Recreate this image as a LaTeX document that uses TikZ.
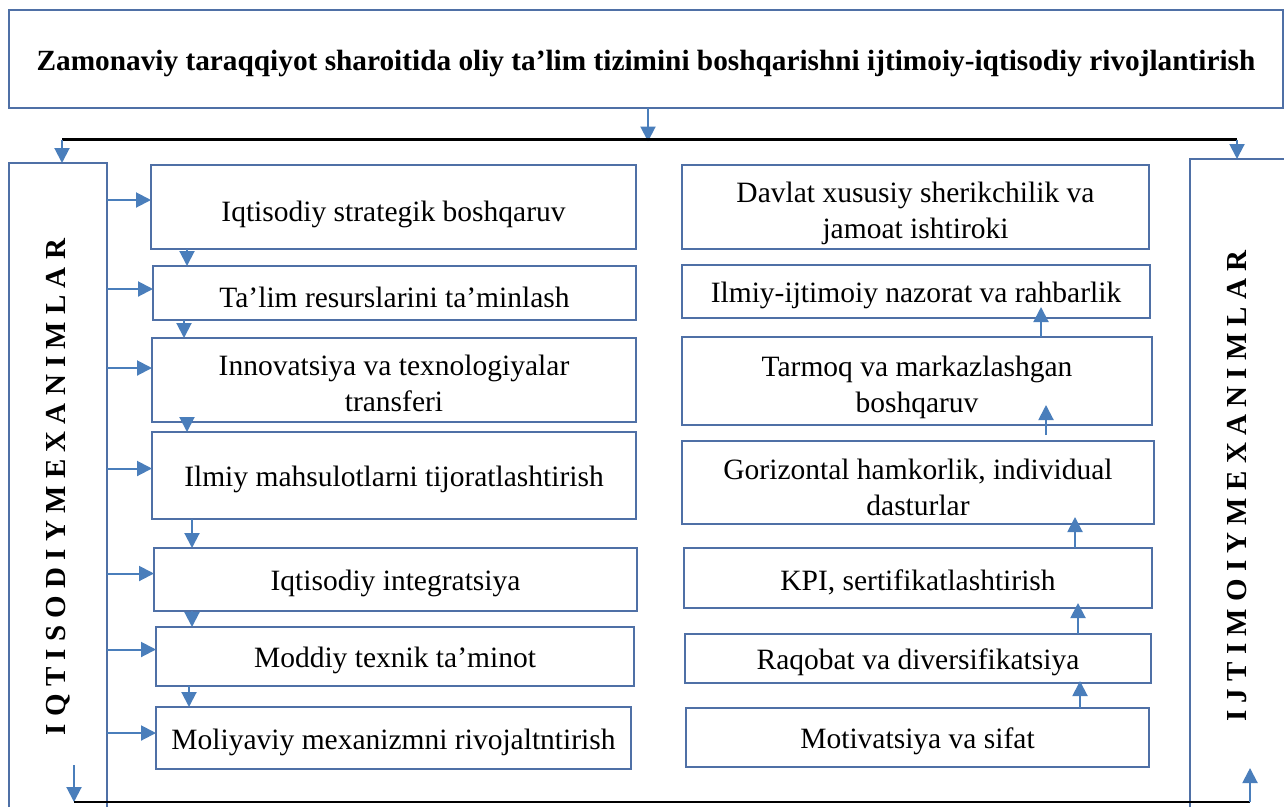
\documentclass[tikz,border=0pt]{standalone}
\usepackage{fontspec}
\setmainfont{Liberation Serif}
\usetikzlibrary{arrows.meta,calc}
\definecolor{boxc}{RGB}{79,112,166}
\definecolor{arrc}{RGB}{74,126,187}
\begin{document}
\begin{tikzpicture}[x=1pt,y=-1pt,
  box/.style={draw=boxc,line width=1.2pt,inner sep=0pt,outer sep=0pt,align=center,font=\fontsize{29.5}{36}\selectfont,lift=29pt},
  lift/.style={execute at begin node={\rule{0pt}{#1}}},
  arr/.style={draw=arrc,line width=2pt,-{Triangle[width=15pt,length=15pt]}},
  blk/.style={draw=black,line width=2.5pt},
  vtext/.style={rotate=90,font=\fontsize{29}{36}\selectfont\bfseries,inner sep=0pt},
  side/.style={inner sep=0pt,outer sep=0pt}]
\useasboundingbox (0,0) rectangle (1284,807);

% title
\node[box,lift=0pt,font=\fontsize{29.3}{36}\selectfont\bfseries,minimum width=1274,minimum height=98] (T) at (646,59)
  {Zamonaviy taraqqiyot sharoitida oliy ta’lim tizimini boshqarishni ijtimoiy-iqtisodiy rivojlantirish};

% side frames
\node[side,minimum width=98,minimum height=644] (LS) at (58,485) {};
\draw[draw=boxc,line width=1.2pt] (LS.south west) |- (LS.north east) -- (LS.south east);
\node[side,minimum width=94,minimum height=648] (RS) at (1237,483) {};
\draw[draw=boxc,line width=1.2pt] (RS.south west) |- (RS.north east);
\node[vtext] (LT) at (58,487) {I Q T I S O D I Y M E X A N I M L A R};
\node[vtext] (RT) at (1237,486) {I J T I M O I Y M E X A N I M L A R};

% left column
\node[box,lift=36pt,minimum width=485,minimum height=84] (L1) at (393.5,207) {Iqtisodiy strategik boshqaruv};
\node[box,minimum width=483,minimum height=54] (L2) at (394.5,293) {Ta’lim resurslarini ta’minlash};
\node[box,lift=0pt,minimum width=484,minimum height=84] (L3) at (394,380) {\rule{0pt}{28pt}Innovatsiya va texnologiyalar\\transferi};
\node[box,minimum width=484,minimum height=87] (L4) at (394,475.5) {Ilmiy mahsulotlarni tijoratlashtirish};
\node[box,minimum width=483,minimum height=63] (L5) at (395.5,579.5) {Iqtisodiy integratsiya};
\node[box,minimum width=478,minimum height=59] (L6) at (395,656.5) {Moddiy texnik ta’minot};
\node[box,minimum width=475,minimum height=62] (L7) at (393.5,738) {Moliyaviy mexanizmni rivojaltntirish};

% right column
\node[box,lift=0pt,minimum width=467,minimum height=84] (R1) at (915.5,207) {\rule{0pt}{34pt}Davlat xususiy sherikchilik va\\jamoat ishtiroki};
\node[box,minimum width=468,minimum height=53] (R2) at (916,291.5) {Ilmiy-ijtimoiy nazorat va rahbarlik};
\node[box,lift=0pt,minimum width=470,minimum height=88] (R3) at (917,381) {\rule{0pt}{34pt}Tarmoq va markazlashgan\\boshqaruv};
\node[box,lift=0pt,minimum width=472,minimum height=83] (R4) at (918,482.5) {\rule{0pt}{30pt}Gorizontal hamkorlik, individual\\dasturlar};
\node[box,minimum width=468,minimum height=60] (R5) at (918,578) {KPI, sertifikatlashtirish};
\node[box,minimum width=466,minimum height=49] (R6) at (918,658.5) {Raqobat va diversifikatsiya};
\node[box,minimum width=463,minimum height=59] (R7) at (917.5,737.5) {Motivatsiya va sifat};

% top connectors
\coordinate (tj) at (648,139.5);
\coordinate (lj) at (62,139.5);
\coordinate (rj) at (1237,139.5);
\draw[arr,shorten >=-2pt] (T.south -| tj) -- (tj);
\draw[blk] (lj) -- (rj);
\draw[arr] (lj) -- (lj |- LS.north);
\draw[arr] (rj) -- (rj |- RS.north);

% left side arrows to boxes
\draw[arr] ([yshift=7pt]L1.west -| LS.east) -- ([yshift=7pt]L1.west);
\draw[arr] ([yshift=4pt]L2.west -| LS.east) -- ([yshift=4pt]L2.west);
\draw[arr] ([yshift=12pt]L3.west -| LS.east) -- ([yshift=12pt]L3.west);
\draw[arr] ([yshift=7pt]L4.west -| LS.east) -- ([yshift=7pt]L4.west);
\draw[arr] ([yshift=6pt]L5.west -| LS.east) -- ([yshift=6pt]L5.west);
\draw[arr] ([yshift=7pt]L6.west -| LS.east) -- ([yshift=7pt]L6.west);
\draw[arr] ([yshift=5pt]L7.west -| LS.east) -- ([yshift=5pt]L7.west);

% left column down arrows
\draw[arr] ([xshift=36pt]L1.south west) -- ([xshift=36pt]L1.south west |- L2.north);
\draw[arr] ([xshift=31pt]L2.south west) -- ([xshift=31pt]L2.south west |- L3.north);
\draw[arr] ([xshift=35pt]L3.south west) -- ([xshift=35pt]L3.south west |- L4.north);
\draw[arr] ([xshift=40pt]L4.south west) -- ([xshift=40pt]L4.south west |- L5.north);
\draw[arr] ([xshift=38pt]L5.south west) -- ([xshift=38pt]L5.south west |- L6.north);
\draw[arr] ([xshift=33pt]L6.south west) -- ([xshift=33pt]L6.south west |- L7.north);

% right column up arrows
\draw[arr,shorten >=-2pt] ([xshift=394pt]R7.north west) -- ([xshift=394pt]R7.north west |- R6.south);
\draw[arr,shorten >=-5pt] ([xshift=393pt]R6.north west) -- ([xshift=393pt]R6.north west |- R5.south);
\draw[arr,shorten >=-7pt] ([xshift=391pt]R5.north west) -- ([xshift=391pt]R5.north west |- R4.south);
\draw[arr,shorten <=6pt,shorten >=-20pt] ([xshift=364pt]R4.north west) -- ([xshift=364pt]R4.north west |- R3.south);
\draw[arr,shorten >=-11pt] ([xshift=359pt]R3.north west) -- ([xshift=359pt]R3.north west |- R2.south);

% bottom loop
\coordinate (blt) at (74,765);
\coordinate (bl) at (74,802);
\coordinate (br) at (1250,802);
\coordinate (brt) at (1250,768);
\draw[arr] (blt) -- (bl);
\draw[blk] (bl) -- (br);
\draw[arr] (br) -- (brt);
\end{tikzpicture}
\end{document}
